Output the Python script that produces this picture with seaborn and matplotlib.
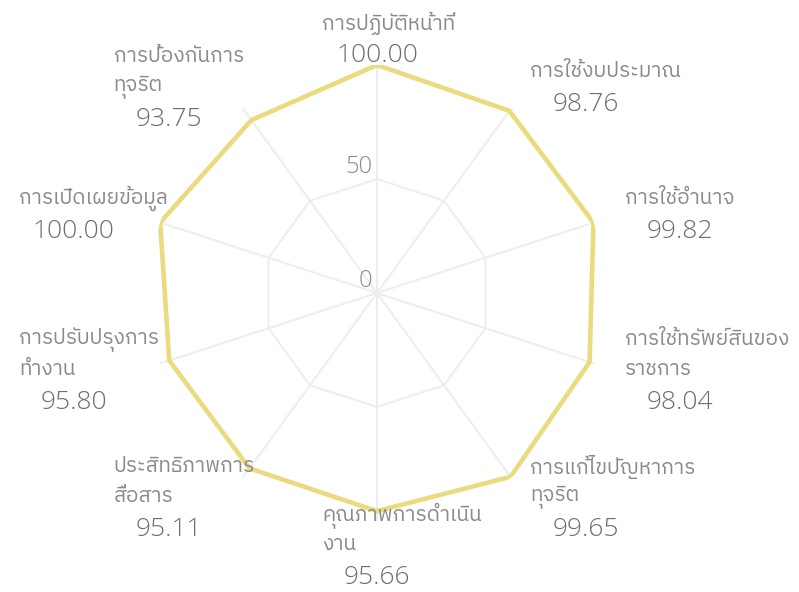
import numpy as np
import matplotlib
matplotlib.use("Agg")
import matplotlib.pyplot as plt
import seaborn as sns
from matplotlib import font_manager
from fontTools.ttLib import TTFont

# --- data ---
labels = [
    ["การปฏิบัติหน้าที่"],
    ["การใช้งบประมาณ"],
    ["การใช้อำนาจ"],
    ["การใช้ทรัพย์สินของ", "ราชการ"],
    ["การแก้ไขปัญหาการ", "ทุจริต"],
    ["คุณภาพการดำเนิน", "งาน"],
    ["ประสิทธิภาพการ", "สื่อสาร"],
    ["การปรับปรุงการ", "ทำงาน"],
    ["การเปิดเผยข้อมูล"],
    ["การป้องกันการ", "ทุจริต"],
]
scores = [100.00, 98.76, 99.82, 98.04, 99.65, 95.66, 95.11, 95.80, 100.00, 93.75]
scale_ticks = [0, 50]
scale_max = 100

# --- find a font that has Thai glyphs ---
thai_font = None
cands = sorted(font_manager.fontManager.ttflist,
               key=lambda f: (0 if "thai" in f.name.lower() else 1, f.name))
for f in cands:
    try:
        tt = TTFont(f.fname, fontNumber=0, lazy=True)
        cmap = tt.getBestCmap()
        if cmap and 0x0E01 in cmap and 0x0E34 in cmap:
            thai_font = f.name
            break
    except Exception:
        pass

sns.set_theme(style="white")
plt.rcParams["font.family"] = [thai_font, "DejaVu Sans"] if thai_font else ["DejaVu Sans"]

label_color = "#8a8a8a"
value_color = "#6e6e6e"
grid_color = "#ededed"
line_color = "#eadb7e"
num_font = ["Open Sans", "DejaVu Sans"]

# --- figure / polar axes ---
fig = plt.figure(figsize=(7.99, 5.92), dpi=100)
R_px = 228
cx, cy = 377, 592 - 293
ax = fig.add_axes([(cx - R_px) / 799, (cy - R_px) / 592, 2 * R_px / 799, 2 * R_px / 592],
                  projection="polar")
ax.set_theta_zero_location("N")
ax.set_theta_direction(-1)
ax.set_ylim(0, scale_max)
ax.grid(False)
ax.spines["polar"].set_visible(False)
ax.set_xticks([])
ax.set_yticks([])
ax.patch.set_alpha(0)

n = len(scores)
theta = np.linspace(0, 2 * np.pi, n, endpoint=False)
theta_closed = np.append(theta, 2 * np.pi)

# polygon grid at 50 + spokes
ax.plot(theta_closed, [50] * (n + 1), color=grid_color, lw=1.4, zorder=1)
for t in theta:
    ax.plot([t, t], [0, scale_max], color=grid_color, lw=1.4, zorder=1)

# data polygon
vals_closed = scores + scores[:1]
sns.lineplot(x=theta_closed, y=vals_closed, sort=False, estimator=None, ax=ax,
             color=line_color, lw=3.3, zorder=3)
ax.set_xlabel("")
ax.set_ylabel("")

# scale tick labels
for tk in scale_ticks:
    ax.annotate(str(tk), xy=(0, tk), xytext=(-5, 12), textcoords="offset pixels",
                ha="right", va="center", fontsize=17, color="#8a8a8a",
                family=num_font, fontweight="light")

# point labels: block centred near radius R+33 px, box width 110 px
pad = 33
box_w = 110
r_lab = scale_max * (1 + pad / R_px)
for t, lines, v in zip(theta, labels, scores):
    s = np.sin(t)
    if s > 0.01:
        left = 0
    elif s < -0.01:
        left = -box_w
    else:
        left = -box_w / 2
    shift = -7.5 * np.cos(t)
    span = (len(lines) - 1) * 30 + 33
    for j, ln in enumerate(lines):
        ax.annotate(ln, xy=(t, r_lab), xytext=(left, span / 2 - 30 * j + shift),
                    textcoords="offset pixels", ha="left", va="center",
                    fontsize=15, color=label_color, annotation_clip=False)
    ax.annotate(f"{v:.2f}", xy=(t, r_lab), xytext=(left + box_w / 2, -span / 2 + shift),
                textcoords="offset pixels", ha="center", va="center",
                fontsize=19, color=value_color, annotation_clip=False,
                family=num_font, fontweight="light")

fig.savefig("out.png", dpi=100, facecolor="white")
